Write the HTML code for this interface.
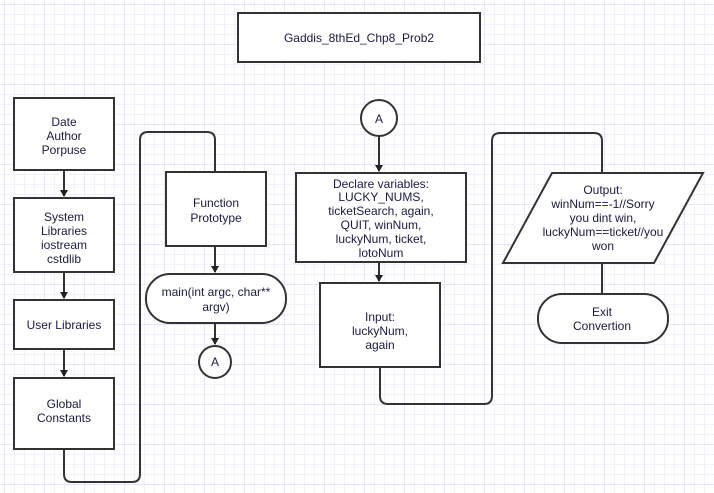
<!DOCTYPE html><html><head><style>
body{margin:0;width:714px;height:493px;overflow:hidden;background:#fff;
background-image:linear-gradient(#e6e6f6 1px,transparent 1px),linear-gradient(90deg,#e6e6f6 1px,transparent 1px),linear-gradient(#f1f1fb 1px,transparent 1px),linear-gradient(90deg,#f1f1fb 1px,transparent 1px);
background-size:40px 40px,40px 40px,10px 10px,10px 10px;background-position:-36px -36px,-36px -36px,-6px -6px,-6px -6px;}
svg{position:absolute;left:0;top:0}
text{font-family:"Liberation Sans",sans-serif;font-size:12px;fill:#1a1a40;text-anchor:middle}
</style></head><body>
<svg width="714" height="493" viewBox="0 0 714 493">
<defs><marker id="a" markerWidth="8" markerHeight="8" refX="6" refY="4" orient="auto" markerUnits="userSpaceOnUse"><path d="M0,0L7,4L0,8z" fill="#222"/></marker></defs>
<g stroke="#333" stroke-width="2" fill="#fff">
<rect x="238" y="13" width="242" height="49"/>
<rect x="14" y="98" width="100" height="72"/>
<rect x="14" y="198" width="100" height="74"/>
<rect x="14" y="300" width="100" height="49"/>
<rect x="14" y="378" width="100" height="71"/>
<rect x="166" y="172" width="100" height="74"/>
<rect x="146" y="274" width="140" height="49" rx="24"/>
<circle cx="215" cy="362" r="16"/>
<circle cx="379" cy="118" r="18"/>
<rect x="296" y="173" width="170" height="89"/>
<rect x="320" y="283" width="120" height="84"/>
<polygon points="552,173 703,173 654,263 503,263"/>
<rect x="538" y="294" width="130" height="49" rx="24"/>
</g>
<g stroke="#333" stroke-width="2" fill="none">
<path d="M64,170V196" marker-end="url(#a)"/>
<path d="M64,272V298" marker-end="url(#a)"/>
<path d="M64,349V376" marker-end="url(#a)"/>
<path d="M64,449V474Q64,482 72,482H132Q140,482 140,474V140Q140,132 148,132H207Q215,132 215,140V172"/>
<path d="M215,246V272" marker-end="url(#a)"/>
<path d="M215,323V344" marker-end="url(#a)"/>
<path d="M379,136V171" marker-end="url(#a)"/>
<path d="M379,262V281" marker-end="url(#a)"/>
<path d="M380,367V396Q380,404 388,404H484Q492,404 492,396V141Q492,133 500,133H594Q602,133 602,141V173"/>
<path d="M602,263V294"/>
</g>
<text x="359" y="42">Gaddis_8thEd_Chp8_Prob2</text>
<text x="64" y="126">Date</text><text x="64" y="140">Author</text><text x="64" y="154">Porpuse</text>
<text x="64" y="221">System</text><text x="64" y="235">Libraries</text><text x="64" y="249">iostream</text><text x="64" y="263">cstdlib</text>
<text x="64" y="329">User Libraries</text>
<text x="64" y="408">Global</text><text x="64" y="422">Constants</text>
<text x="216" y="207">Function</text><text x="216" y="222">Prototype</text>
<text x="216" y="296">main(int argc, char**</text><text x="216" y="311">argv)</text>
<text x="215" y="366">A</text><text x="379" y="123">A</text>
<text x="381" y="188">Declare variables:</text><text x="381" y="201">LUCKY_NUMS,</text><text x="381" y="215">ticketSearch, again,</text><text x="381" y="229">QUIT, winNum,</text><text x="381" y="243">luckyNum, ticket,</text><text x="381" y="257">lotoNum</text>
<text x="380" y="321">Input:</text><text x="380" y="335">luckyNum,</text><text x="380" y="349">again</text>
<text x="603" y="194">Output:</text><text x="603" y="208">winNum==-1//Sorry</text><text x="603" y="222">you dint win,</text><text x="603" y="236">luckyNum==ticket//you</text><text x="603" y="250">won</text>
<text x="602" y="316">Exit</text><text x="602" y="330">Convertion</text>
</svg></body></html>
